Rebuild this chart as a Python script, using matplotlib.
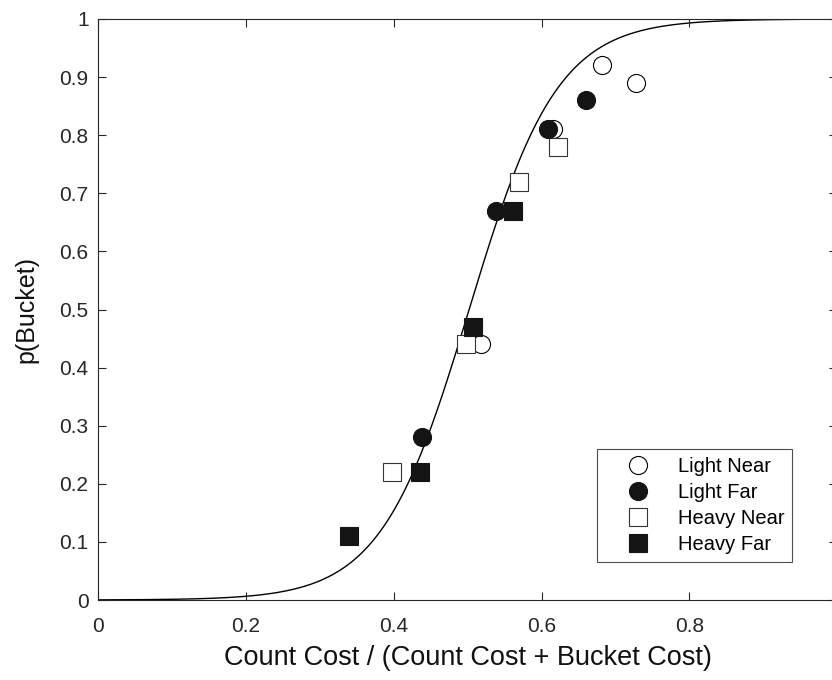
import numpy as np
import matplotlib
matplotlib.use("Agg")
import matplotlib.pyplot as plt

plt.rcParams['font.family'] = ['Liberation Sans', 'DejaVu Sans']

# ---- data ----
light_near_x = [0.518, 0.616, 0.682, 0.728]
light_near_y = [0.44, 0.81, 0.92, 0.89]
light_far_x = [0.438, 0.538, 0.609, 0.660]
light_far_y = [0.28, 0.67, 0.81, 0.86]
heavy_near_x = [0.398, 0.4975, 0.569, 0.6225]
heavy_near_y = [0.22, 0.44, 0.72, 0.78]
heavy_far_x = [0.3395, 0.435, 0.507, 0.562]
heavy_far_y = [0.11, 0.22, 0.47, 0.67]

# fitted logistic curve
slope = 16.7
midpoint = 0.502

xticks = [0, 0.2, 0.4, 0.6, 0.8, 1]
yticks = [0, 0.1, 0.2, 0.3, 0.4, 0.5, 0.6, 0.7, 0.8, 0.9, 1]

# ---- plot ----
fig = plt.figure(figsize=(8.32, 6.8), dpi=100)
ax = fig.add_axes([98.3/832, 80/680, (837-98.3)/832, 581/680])

xs = np.linspace(0, 1, 400)
ax.plot(xs, 1/(1+np.exp(-slope*(xs-midpoint))), color='k', lw=1.0, zorder=1)

ms = 13
fill = '#141414'
ax.plot(light_near_x, light_near_y, 'o', ms=ms, mfc='white', mec='k', mew=0.8, ls='none', label='Light Near', zorder=2)
ax.plot(light_far_x, light_far_y, 'o', ms=ms, mfc=fill, mec=fill, mew=0.8, ls='none', label='Light Far', zorder=3)
ax.plot(heavy_near_x, heavy_near_y, 's', ms=ms, mfc='white', mec='#333333', mew=0.8, ls='none', label='Heavy Near', zorder=2)
ax.plot(heavy_far_x, heavy_far_y, 's', ms=ms, mfc=fill, mec=fill, mew=0.8, ls='none', label='Heavy Far', zorder=3)

ax.set_xlim(0, 1)
ax.set_ylim(0, 1)
ax.set_xticks(xticks)
ax.set_yticks(yticks)
ax.set_xticklabels(['0', '0.2', '0.4', '0.6', '0.8', '1'])
ax.set_yticklabels(['0', '0.1', '0.2', '0.3', '0.4', '0.5', '0.6', '0.7', '0.8', '0.9', '1'])

grey = '#262626'
for sp in ax.spines.values():
    sp.set_color(grey)
    sp.set_linewidth(0.8)
ax.tick_params(direction='in', length=5.5, width=0.8, color=grey, labelcolor=grey,
               labelsize=15, top=True, right=True)
ax.tick_params(axis='x', pad=12)
ax.tick_params(axis='y', pad=7)

ax.set_xlabel('Count Cost / (Count Cost + Bucket Cost)', fontsize=19.5, color='#111111', labelpad=7)
ax.set_ylabel('p(Bucket)', fontsize=18, color='#111111', labelpad=15)

leg = ax.legend(loc='upper left', bbox_to_anchor=((597-98.3)/738.7, (600-449)/581),
                fontsize=14.5, frameon=True, fancybox=False, edgecolor='#222222',
                borderpad=0.4, labelspacing=0.35, handletextpad=0.3, handlelength=3.3,
                borderaxespad=0)
leg.get_frame().set_linewidth(0.8)

fig.savefig('out.png', dpi=100)
